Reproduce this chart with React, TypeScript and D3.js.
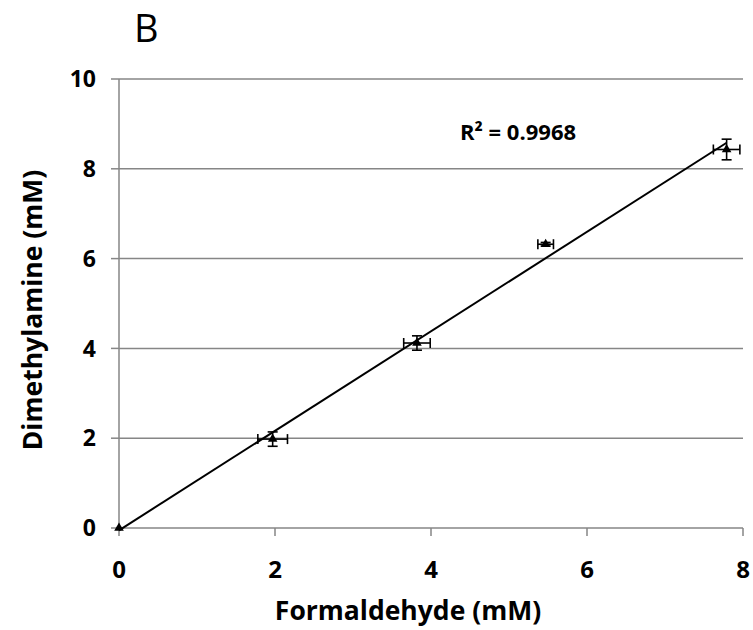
import React from 'react';
import * as d3 from 'd3';

const formaldehyde = [0, 1.97, 3.82, 5.47, 7.79];
const dimethylamine = [0, 1.98, 4.12, 6.32, 8.43];
const xErr = [0, 0.19, 0.17, 0.1, 0.17];
const yErr = [0, 0.16, 0.16, 0.04, 0.23];
const xTicks = [0, 2, 4, 6, 8];
const yTicks = [0, 2, 4, 6, 8, 10];
const r2Label = 'R² = 0.9968';

const font = '"Open Sans", sans-serif';

const App = () => {
  const width = 753;
  const height = 630;
  const margin = { top: 79, right: 10, bottom: 102, left: 119 };
  const chartWidth = 743 - margin.left;
  const chartHeight = height - margin.top - margin.bottom;

  const xScale = d3.scaleLinear().domain([0, 8]).range([0, chartWidth]);
  const yScale = d3.scaleLinear().domain([0, 10]).range([chartHeight, 0]);

  const pts = formaldehyde.map((x, i) => ({ x, y: dimethylamine[i], ex: xErr[i], ey: yErr[i] }));

  // least squares trendline over the data range
  const mx = d3.mean(formaldehyde) as number;
  const my = d3.mean(dimethylamine) as number;
  const sxy = d3.sum(pts, d => (d.x - mx) * (d.y - my));
  const sxx = d3.sum(pts, d => (d.x - mx) * (d.x - mx));
  const slope = sxy / sxx;
  const icpt = my - slope * mx;
  const xExt = d3.extent(formaldehyde) as [number, number];
  const trend = d3.line<number>()
    .x(d => xScale(d))
    .y(d => yScale(icpt + slope * d));

  const tri = d3.symbol().type(d3.symbolTriangle).size(40)();
  const cap = 5;
  const grid = '#868686';

  return (
    <svg width={width} height={height} style={{ position: 'absolute', left: 0, top: 0 }}>
      <rect width={width} height={height} fill='white' />
      <text x={134} y={42} fontFamily={font} fontSize={38}>B</text>
      <g transform={`translate(${margin.left}, ${margin.top})`}>
        {yTicks.filter(t => t > 0).map(t => (
          <line key={t} x1={0} x2={chartWidth} y1={yScale(t)} y2={yScale(t)} stroke={grid} strokeWidth={1.5} />
        ))}
        {yTicks.map(t => (
          <g key={t}>
            <line x1={-8} x2={0} y1={yScale(t)} y2={yScale(t)} stroke={grid} strokeWidth={1.5} />
            <text x={-23} y={yScale(t)} dy='0.36em' textAnchor='end' fontFamily={font} fontWeight='bold' fontSize={23}>{t}</text>
          </g>
        ))}
        {xTicks.map(t => (
          <g key={t}>
            <line x1={xScale(t)} x2={xScale(t)} y1={chartHeight} y2={chartHeight + 8} stroke={grid} strokeWidth={1.5} />
            <text x={xScale(t)} y={chartHeight + 50} textAnchor='middle' fontFamily={font} fontWeight='bold' fontSize={24}>{t}</text>
          </g>
        ))}
        <line x1={0} x2={0} y1={0} y2={chartHeight} stroke={grid} strokeWidth={1.5} />
        <line x1={0} x2={chartWidth} y1={chartHeight} y2={chartHeight} stroke={grid} strokeWidth={1.5} />

        <path d={trend(xExt) as string} stroke='black' strokeWidth={2} fill='none' />

        {pts.map((d, i) => (
          <g key={i} stroke='black' strokeWidth={1.6}>
            {d.ex > 0 && (
              <>
                <line x1={xScale(d.x - d.ex)} x2={xScale(d.x + d.ex)} y1={yScale(d.y)} y2={yScale(d.y)} />
                <line x1={xScale(d.x - d.ex)} x2={xScale(d.x - d.ex)} y1={yScale(d.y) - cap} y2={yScale(d.y) + cap} />
                <line x1={xScale(d.x + d.ex)} x2={xScale(d.x + d.ex)} y1={yScale(d.y) - cap} y2={yScale(d.y) + cap} />
              </>
            )}
            {d.ey > 0 && (
              <>
                <line x1={xScale(d.x)} x2={xScale(d.x)} y1={yScale(d.y - d.ey)} y2={yScale(d.y + d.ey)} />
                <line x1={xScale(d.x) - cap} x2={xScale(d.x) + cap} y1={yScale(d.y - d.ey)} y2={yScale(d.y - d.ey)} />
                <line x1={xScale(d.x) - cap} x2={xScale(d.x) + cap} y1={yScale(d.y + d.ey)} y2={yScale(d.y + d.ey)} />
              </>
            )}
            <path d={tri as string} transform={`translate(${xScale(d.x)},${yScale(d.y)})`} fill='black' stroke='none' />
          </g>
        ))}

        <text x={341} y={61} fontFamily={font} fontWeight='bold' fontSize={22}>{r2Label}</text>
      </g>
      <text x={408} y={620} textAnchor='middle' fontFamily={font} fontWeight='bold' fontSize={26.5}>Formaldehyde (mM)</text>
      <text transform={`translate(42, 310) rotate(-90)`} textAnchor='middle' fontFamily={font} fontWeight='bold' fontSize={26.5}>Dimethylamine (mM)</text>
    </svg>
  );
};

export default App;
